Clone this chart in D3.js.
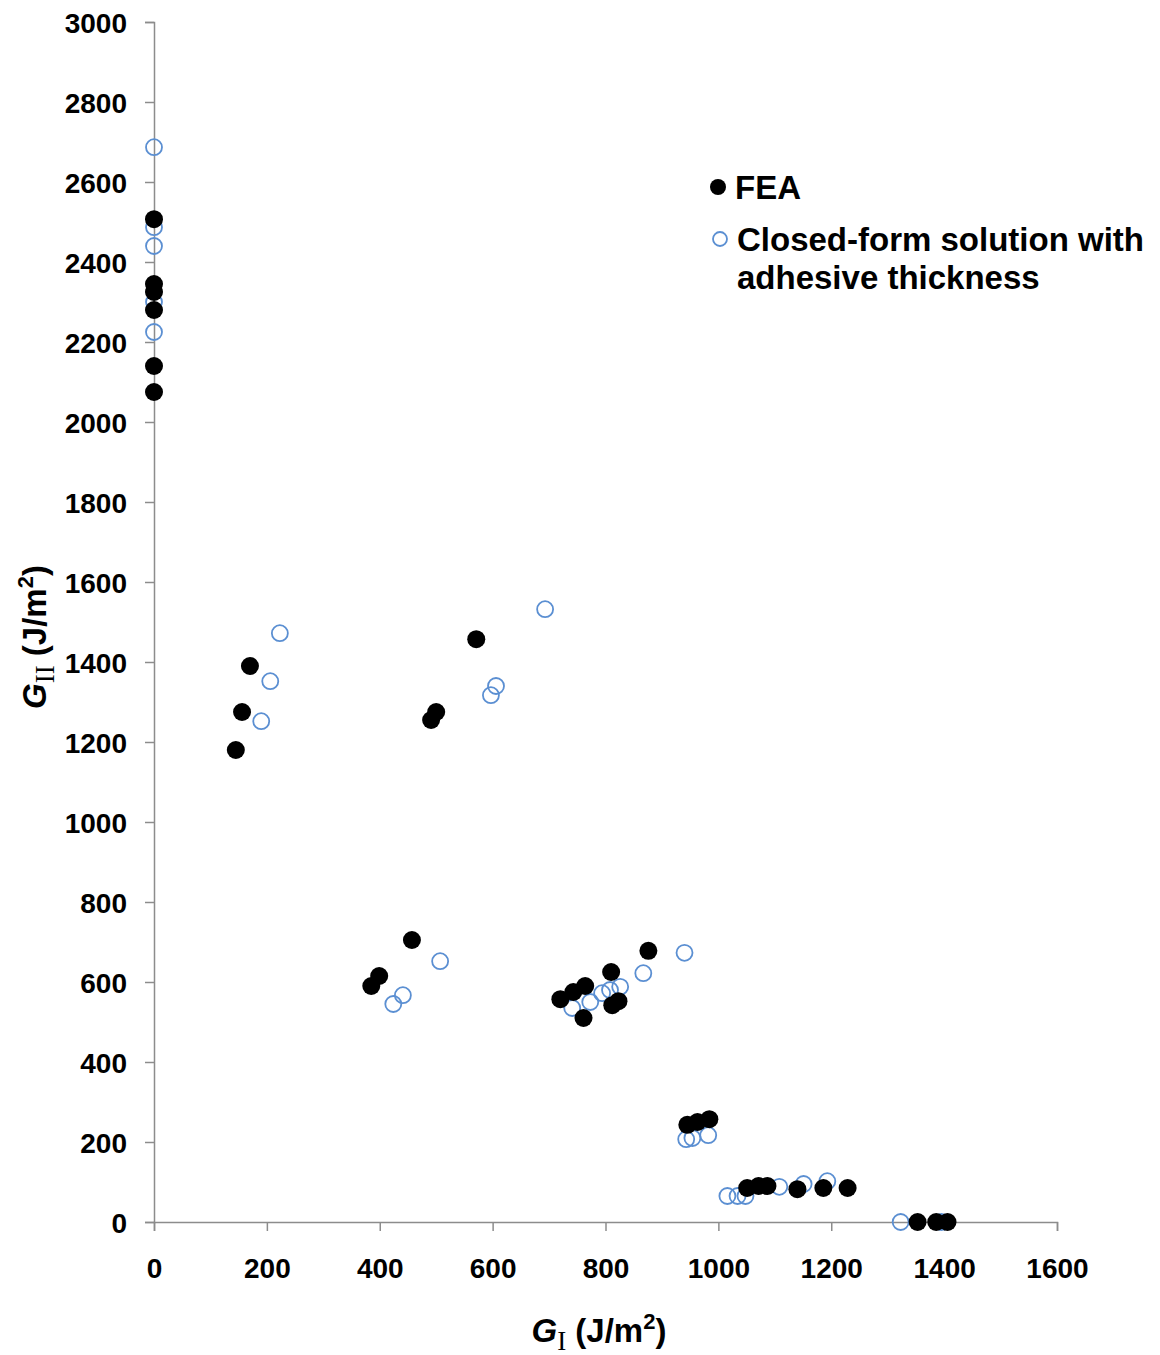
<!DOCTYPE html>
<html lang="en">
<head>
    <meta charset="UTF-8">
    <title>G_I vs G_II</title>
    <script src="https://d3js.org/d3.v7.min.js"></script>
    <style>
        body {
            margin: 0;
            background: #fff;
            font-family: "Liberation Sans", Arial, sans-serif;
        }
    </style>
</head>
<body>
    <div class="chart"></div>

    <script>
        // FEA (filled black)
        const feaX = [0, 0, 0, 0, 0, 0,
            170, 156, 145,
            457, 399, 385,
            571, 500, 491,
            876, 810, 764, 743, 720, 761, 823, 812,
            945, 963, 984,
            1051, 1071, 1087, 1140, 1186, 1229,
            1353, 1386, 1406];
        const feaY = [2507, 2345, 2325, 2280, 2140, 2075,
            1390, 1275, 1180,
            705, 615, 590,
            1457, 1275, 1255,
            678, 625, 590, 575, 557, 510, 552, 542,
            243, 250, 257,
            85, 90, 90, 82, 85, 85,
            0, 0, 0];

        // Closed-form solution with adhesive thickness (open blue)
        const cfsX = [0, 0, 0, 0, 0,
            223, 206, 190,
            507, 441, 424,
            693, 606, 597,
            940, 867, 826, 808, 794, 773, 741,
            943, 954, 982,
            1016, 1034, 1048, 1108, 1151, 1193,
            1323, 1395];
        const cfsY = [2687, 2487, 2440, 2300, 2225,
            1472, 1352, 1252,
            652, 567, 545,
            1532, 1340, 1317,
            673, 622, 588, 580, 572, 550, 535,
            207, 210, 217,
            65, 65, 65, 88, 95, 102,
            0, 0];

        const xTicks = [0, 200, 400, 600, 800, 1000, 1200, 1400, 1600];
        const yTicks = [0, 200, 400, 600, 800, 1000, 1200, 1400, 1600, 1800,
            2000, 2200, 2400, 2600, 2800, 3000];

        const svgWidth = 1160;
        const svgHeight = 1355;
        const margin = { top: 22, left: 154 };
        const width = 903;
        const height = 1200;

        const svg = d3.select('.chart')
            .append('svg')
            .attr('width', svgWidth)
            .attr('height', svgHeight);

        const g = svg.append('g')
            .attr('transform', `translate(${margin.left},${margin.top})`);

        const x = d3.scaleLinear().domain([0, 1600]).range([0, width]);
        const y = d3.scaleLinear().domain([0, 3000]).range([height, 0]);

        // axes
        const xAxis = g.append('g')
            .attr('transform', `translate(0,${height})`)
            .call(d3.axisBottom(x).tickValues(xTicks).tickFormat(d3.format('d'))
                .tickSize(9).tickPadding(37));
        const yAxis = g.append('g')
            .call(d3.axisLeft(y).tickValues(yTicks).tickFormat(d3.format('d'))
                .tickSize(9).tickPadding(18));

        [xAxis, yAxis].forEach(a => {
            a.select('.domain').attr('stroke', '#8c8c8c').attr('stroke-width', 1.5);
            a.selectAll('.tick line').attr('stroke', '#8c8c8c').attr('stroke-width', 1.5);
            a.selectAll('.tick text')
                .attr('fill', '#000')
                .style('font-family', '"Liberation Sans", Arial, sans-serif')
                .style('font-size', '28px')
                .style('font-weight', 'bold');
        });
        yAxis.selectAll('.tick text').attr('dy', '0.36em');
        xAxis.selectAll('.tick text').attr('dy', '0.36em');

        // open markers
        g.selectAll('.cfs')
            .data(cfsX.map((d, i) => [d, cfsY[i]]))
            .enter()
            .append('circle')
            .attr('class', 'cfs')
            .attr('cx', d => x(d[0]))
            .attr('cy', d => y(d[1]))
            .attr('r', 8)
            .attr('fill', 'none')
            .attr('stroke', '#5b8fd2')
            .attr('stroke-width', 1.8);

        // filled markers
        g.selectAll('.fea')
            .data(feaX.map((d, i) => [d, feaY[i]]))
            .enter()
            .append('circle')
            .attr('class', 'fea')
            .attr('cx', d => x(d[0]))
            .attr('cy', d => y(d[1]))
            .attr('r', 9)
            .attr('fill', '#000');

        // legend
        const leg = svg.append('g').style('font-weight', 'bold').style('font-size', '33px');
        leg.append('circle').attr('cx', 718).attr('cy', 187).attr('r', 8).attr('fill', '#000');
        leg.append('text').attr('x', 735).attr('y', 199).text('FEA');
        leg.append('circle').attr('cx', 720).attr('cy', 239).attr('r', 7)
            .attr('fill', 'none').attr('stroke', '#5b8fd2').attr('stroke-width', 1.8);
        leg.append('text').attr('x', 737).attr('y', 251).text('Closed-form solution with');
        leg.append('text').attr('x', 737).attr('y', 289).text('adhesive thickness');

        // x axis title
        const xt = svg.append('text')
            .attr('x', 599).attr('y', 1342)
            .attr('text-anchor', 'middle')
            .style('font-size', '33px').style('font-weight', 'bold');
        xt.append('tspan').style('font-style', 'italic').text('G');
        xt.append('tspan').attr('dy', 8).style('font-family', '"Liberation Serif", "Times New Roman", serif')
            .style('font-weight', 'normal').style('font-size', '27px').text('I');
        xt.append('tspan').attr('dy', -8).text(' (J/m');
        xt.append('tspan').attr('dy', -13).style('font-size', '22px').text('2');
        xt.append('tspan').attr('dy', 13).text(')');

        // y axis title
        const yt = svg.append('text')
            .attr('transform', 'translate(46,637) rotate(-90)')
            .attr('text-anchor', 'middle')
            .style('font-size', '33px').style('font-weight', 'bold');
        yt.append('tspan').style('font-style', 'italic').text('G');
        yt.append('tspan').attr('dy', 8).style('font-family', '"Liberation Serif", "Times New Roman", serif')
            .style('font-weight', 'normal').style('font-size', '27px').text('II');
        yt.append('tspan').attr('dy', -8).text(' (J/m');
        yt.append('tspan').attr('dy', -13).style('font-size', '22px').text('2');
        yt.append('tspan').attr('dy', 13).text(')');
    </script>
</body>
</html>
